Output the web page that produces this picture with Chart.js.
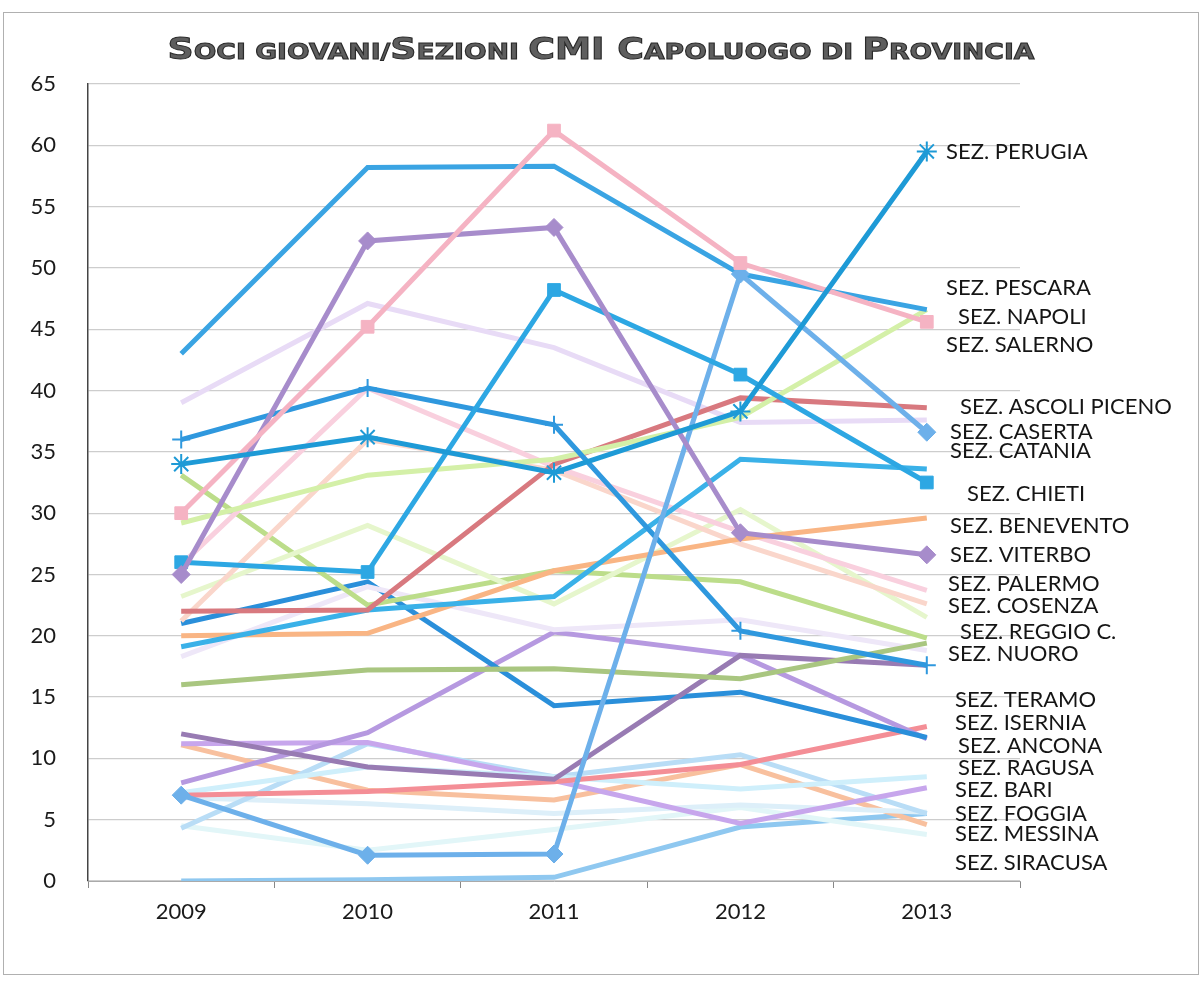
<!DOCTYPE html>
<html>
<head>
<meta charset="utf-8">
<script src="https://cdn.jsdelivr.net/npm/chart.js@4.4.1/dist/chart.umd.min.js"></script>
<style>
html, body { margin: 0; padding: 0; background: #fff; }
canvas { display: block; }
</style>
</head>
<body>
<canvas id="chart" width="1203" height="981"></canvas>
<script>
// anni sull'asse x
const years = ['2009', '2010', '2011', '2012', '2013'];
const yTicks = [0, 5, 10, 15, 20, 25, 30, 35, 40, 45, 50, 55, 60, 65];

// soci giovani per sezione (stimati)
const perugia   = [34, 36.2, 33.3, 38.3, 59.5];
const pescara   = [43, 58.2, 58.3, 49.5, 46.6];
const napoli    = [30, 45.2, 61.2, 50.4, 45.6];
const salerno   = [29.2, 33.1, 34.4, 37.8, 46.6];
const ascoli    = [22, 22.1, 34, 39.4, 38.6];
const caserta   = [7, 2.1, 2.2, 49.5, 36.6];
const catania   = [39, 47.1, 43.5, 37.4, 37.6];
const chieti    = [26, 25.2, 48.2, 41.3, 32.5];
const cyanLine  = [19.1, 22.1, 23.2, 34.4, 33.6];
const benevento = [20, 20.2, 25.3, 27.9, 29.6];
const viterbo   = [25, 52.2, 53.3, 28.4, 26.6];
const palermo   = [25.8, 40.2, 33.8, 28.5, 23.7];
const cosenza   = [21.2, 36, 33.5, 27.5, 22.6];
const paleGreen = [23.2, 29, 22.6, 30.3, 21.5];
const reggio    = [33.1, 22.5, 25.3, 24.4, 19.8];
const olive     = [16, 17.2, 17.3, 16.5, 19.4];
const paleLilac = [18.3, 24, 20.5, 21.3, 18.8];
const nuoro     = [36, 40.2, 37.2, 20.4, 17.6];
const plum      = [12, 9.3, 8.3, 18.4, 17.6];
const teramo    = [21, 24.4, 14.3, 15.4, 11.7];
const ancona    = [8, 12.1, 20.3, 18.4, 11.6];
const isernia   = [7, 7.3, 8.1, 9.5, 12.6];
const ragusa    = [7.2, 9.3, 8.5, 7.5, 8.5];
const bari      = [11.2, 11.3, 8.2, 4.7, 7.6];
const foggia    = [4.3, 11.2, 8.5, 10.3, 5.5];
const paleBlue  = [6.8, 6.3, 5.5, 6.2, 5.6];
const messina   = [11.1, 7.4, 6.6, 9.5, 4.6];
const paleAqua  = [4.5, 2.5, 4.2, 6, 3.8];
const siracusa  = [0, 0.1, 0.3, 4.4, 5.5];

// etichette a destra
const sections = ['SEZ. PERUGIA', 'SEZ. PESCARA', 'SEZ. NAPOLI', 'SEZ. SALERNO', 'SEZ. ASCOLI PICENO',
  'SEZ. CASERTA', 'SEZ. CATANIA', 'SEZ. CHIETI', 'SEZ. BENEVENTO', 'SEZ. VITERBO', 'SEZ. PALERMO',
  'SEZ. COSENZA', 'SEZ. REGGIO C.', 'SEZ. NUORO', 'SEZ. TERAMO', 'SEZ. ISERNIA', 'SEZ. ANCONA',
  'SEZ. RAGUSA', 'SEZ. BARI', 'SEZ. FOGGIA', 'SEZ. MESSINA', 'SEZ. SIRACUSA'];

// dove stanno le etichette (valore sull'asse y, scostamento x)
const labelPlace = [[59.5, 946], [48.4, 946], [46.0, 958], [43.7, 946], [38.7, 960], [36.6, 950],
  [35.1, 950], [31.6, 967], [29.0, 950], [26.6, 950], [24.2, 948], [22.4, 948], [20.3, 960],
  [18.5, 948], [14.8, 955], [12.9, 955], [11.0, 958], [9.2, 958], [7.4, 955], [5.5, 955],
  [3.8, 955], [1.5, 955]];

function line(label, data, color, style, radius) {
  return {
    label: label,
    data: data,
    borderColor: color,
    backgroundColor: color,
    borderWidth: 5,
    tension: 0,
    pointStyle: style || 'circle',
    pointRadius: style ? (radius || 8) : 0,
    pointBorderWidth: (style === 'star' || style === 'cross') ? 2 : 1,
    pointBorderColor: color,
    pointBackgroundColor: color
  };
}

const datasets = [
  line('Perugia', perugia, '#1e9ad6', 'star', 10),
  line('Napoli', napoli, '#f5b3c3', 'rect', 9),
  line('Viterbo', viterbo, '#a78ccb', 'rectRot', 9),
  line('Chieti', chieti, '#2da7e3', 'rect', 9),
  line('Caserta', caserta, '#6db0ea', 'rectRot', 9),
  line('Nuoro', nuoro, '#2f98de', 'cross', 9),
  line('Pescara', pescara, '#3aa4e3'),
  line('Salerno', salerno, '#d4f0a8'),
  line('Ascoli Piceno', ascoli, '#d8797f'),
  line('Catania', catania, '#e8dbf6'),
  line('linea azzurra', cyanLine, '#3ab1e8'),
  line('Benevento', benevento, '#f9b584'),
  line('Palermo', palermo, '#f9d0de'),
  line('Cosenza', cosenza, '#fad6cb'),
  line('linea verde chiaro', paleGreen, '#e6f6cc'),
  line('Reggio C.', reggio, '#bcdd8a'),
  line('linea verde oliva', olive, '#a9c680'),
  line('linea lilla', paleLilac, '#eee7f8'),
  line('linea prugna', plum, '#987bb3'),
  line('Teramo', teramo, '#2a8fda'),
  line('Ancona', ancona, '#b699e0'),
  line('Isernia', isernia, '#f48e96'),
  line('Ragusa', ragusa, '#cfeffb'),
  line('Bari', bari, '#c7a6ec'),
  line('Foggia', foggia, '#b9ddf6'),
  line('linea celeste', paleBlue, '#ddeff9'),
  line('Messina', messina, '#f8c09e'),
  line('linea acqua', paleAqua, '#e2f6f8'),
  line('Siracusa', siracusa, '#8fc8f0')
];

// titolo in maiuscoletto
const titleParts = [['S', 1], ['OCI GIOVANI/', 0], ['S', 1], ['EZIONI ', 0], ['CMI ', 1],
  ['C', 1], ['APOLUOGO DI ', 0], ['P', 1], ['ROVINCIA', 0]];

const extras = {
  id: 'extras',
  beforeDraw(chart) {
    const c = chart.ctx;
    c.save();
    c.fillStyle = '#fff';
    c.fillRect(0, 0, chart.width, chart.height);
    c.strokeStyle = '#b0b0b0';
    c.lineWidth = 1;
    c.strokeRect(3.5, 12.5, 1195, 962);
    c.restore();
  },
  afterDraw(chart) {
    const c = chart.ctx;
    const y = chart.scales.y;
    c.save();
    // titolo
    const big = 'bold 30px "DejaVu Sans"', small = 'bold 22px "DejaVu Sans"';
    let w = 0;
    titleParts.forEach(p => { c.font = p[1] ? big : small; w += c.measureText(p[0]).width; });
    const target = 867, sx = target / w;
    c.translate(601 - target / 2, 59);
    c.scale(sx, 1);
    let x = 0;
    c.fillStyle = '#5e5e5e';
    c.strokeStyle = '#2a2a2a';
    c.lineWidth = 1;
    c.textBaseline = 'alphabetic';
    titleParts.forEach(p => {
      c.font = p[1] ? big : small;
      c.fillText(p[0], x, 0);
      c.strokeText(p[0], x, 0);
      x += c.measureText(p[0]).width;
    });
    c.restore();

    // etichette delle sezioni
    c.save();
    c.font = '22px Lato';
    c.fillStyle = '#151515';
    c.textBaseline = 'middle';
    sections.forEach((s, i) => {
      c.fillText(s, labelPlace[i][1], y.getPixelForValue(labelPlace[i][0]));
    });
    c.restore();
  }
};

const ctx = document.getElementById('chart').getContext('2d');
new Chart(ctx, {
  type: 'line',
  data: { labels: years, datasets: datasets },
  options: {
    responsive: false,
    animation: false,
    layout: { padding: { left: 0, right: 183, top: 84, bottom: 0 } },
    plugins: { legend: { display: false }, title: { display: false }, tooltip: { enabled: false } },
    scales: {
      x: {
        offset: true,
        grid: { offset: true, drawOnChartArea: false, drawTicks: true, tickLength: 7, color: '#888' },
        border: { color: '#aaa', width: 1 },
        ticks: { font: { family: 'Lato', size: 22 }, color: '#1a1a1a', padding: 11 },
        afterFit(s) { s.height = 100; }
      },
      y: {
        min: 0,
        max: 65,
        afterBuildTicks(s) { s.ticks = yTicks.map(v => ({ value: v })); },
        grid: { color: '#cdcdcd', lineWidth: 1.2, drawTicks: false },
        border: { color: '#444', width: 1.5 },
        ticks: { font: { family: 'Lato', size: 22 }, color: '#1a1a1a', padding: 32 },
        afterFit(s) { s.width = 88; }
      }
    }
  },
  plugins: [extras]
});
</script>
</body>
</html>
